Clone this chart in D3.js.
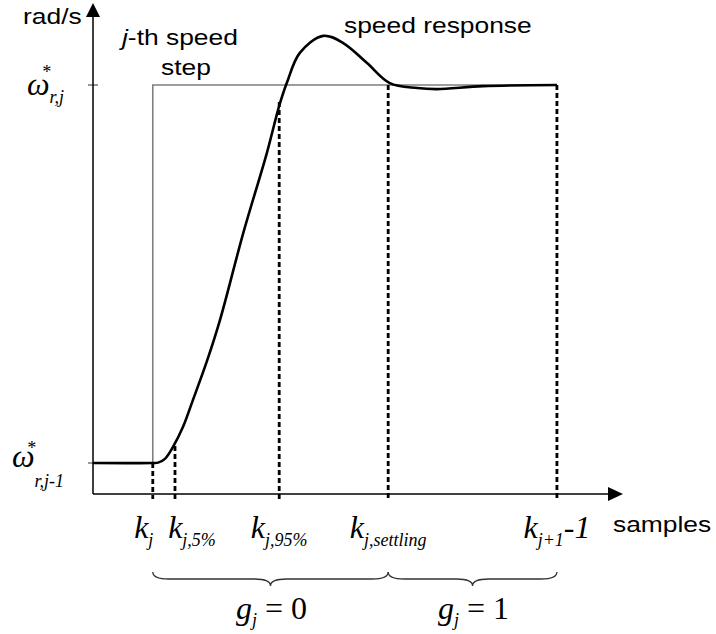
<!DOCTYPE html>
<html lang="en">
<head>
  <meta charset="UTF-8">
  <title>speed step response</title>
  <style>
    body {
      margin: 0;
      padding: 0;
      background: #fff;
    }
  </style>
</head>
<body>
  <div class="visual"></div>

  <script src="https://cdnjs.cloudflare.com/ajax/libs/d3/7.8.5/d3.min.js"></script>
  <script>
    'use strict';

    // speed is normalised: 0 = omega*_{r,j-1}, 1 = omega*_{r,j}
    const stepSamples = [0, 11.3, 11.3, 87.7];
    const stepValues = [0, 0, 1, 1];

    const responseSamples = [0, 11.3, 12.3, 13.6, 15.1, 17.0, 18.9, 21.6, 24.0, 28.4, 32.9, 35.2, 36.7, 39.1,
      43.5, 47.3, 51.8, 56.1, 61.3, 65.0, 73.7, 87.7];
    const responseValues = [0, 0, 0.001, 0.011, 0.042, 0.095, 0.167, 0.272, 0.378, 0.608, 0.822, 0.945, 1.008, 1.085,
      1.130, 1.111, 1.058, 1.005, 0.992, 0.989, 0.997, 1.0];

    // marked samples on the time axis
    const tickSamples = [11.3, 15.5, 35.2, 55.8, 87.7];
    const tickValues = [0, 0.045, 0.955, 1, 1];
    const tickSubs = ['j', 'j,5%', 'j,95%', 'j,settling', 'j+1'];
    const tickSuffix = ['', '', '', '', '-1'];

    // speed levels on the vertical axis
    const levelValues = [1, 0];
    const levelSubs = ['r,j', 'r,j-1'];

    // g_j flag intervals
    const braceFrom = [11.3, 55.8];
    const braceTo = [55.8, 87.7];
    const braceFlag = ['0', '1'];

    const W = 716, H = 634;
    const axisX = 93, axisY = 494;
    const SANS = 'Liberation Sans';
    const SERIF = 'Liberation Serif';

    const x = d3.scaleLinear().domain([0, 100]).range([93, 622]);
    const y = d3.scaleLinear().domain([0, 1]).range([463, 85]);

    const svg = d3.select('.visual').append('svg')
      .attr('width', W)
      .attr('height', H);

    // reference step
    const stepLine = d3.line()
      .x((d, i) => x(stepSamples[i]))
      .y((d, i) => y(stepValues[i]));
    svg.append('path')
      .attr('d', stepLine(stepSamples))
      .attr('fill', 'none')
      .attr('stroke', '#7f7f7f')
      .attr('stroke-width', 1.6);

    // level ticks on the y axis
    levelValues.forEach((v, i) => {
      svg.append('line')
        .attr('x1', axisX - 5).attr('x2', i === 0 ? axisX + 5 : axisX)
        .attr('y1', y(v)).attr('y2', y(v))
        .attr('stroke', '#7f7f7f')
        .attr('stroke-width', 1.6);
    });

    // dashed markers
    tickSamples.forEach((s, i) => {
      svg.append('line')
        .attr('x1', x(s)).attr('x2', x(s))
        .attr('y1', y(tickValues[i])).attr('y2', axisY + 5)
        .attr('stroke', '#000')
        .attr('stroke-width', 2.8)
        .attr('stroke-dasharray', '5,3');
    });

    // axes with arrows
    svg.append('line')
      .attr('x1', axisX).attr('x2', axisX)
      .attr('y1', axisY).attr('y2', 14)
      .attr('stroke', '#000').attr('stroke-width', 1.5);
    svg.append('line')
      .attr('x1', axisX).attr('x2', 610)
      .attr('y1', axisY).attr('y2', axisY)
      .attr('stroke', '#000').attr('stroke-width', 1.5);
    svg.append('path')
      .attr('d', `M${axisX},3 L${axisX + 7},17 L${axisX - 7},17 Z`)
      .attr('fill', '#000');
    svg.append('path')
      .attr('d', `M623,${axisY} L608,${axisY - 7} L608,${axisY + 7} Z`)
      .attr('fill', '#000');

    // speed response
    const respLine = d3.line()
      .x((d, i) => x(responseSamples[i]))
      .y((d, i) => y(responseValues[i]))
      .curve(d3.curveCatmullRom.alpha(0.5));
    svg.append('path')
      .attr('d', respLine(responseSamples))
      .attr('fill', 'none')
      .attr('stroke', '#000')
      .attr('stroke-width', 2.6);

    // sans labels (the original font is a little wider, hence the stretch)
    function sansText(tx, ty) {
      return svg.append('text')
        .attr('font-family', SANS)
        .attr('font-size', 22)
        .attr('transform', `translate(${tx},${ty}) scale(1.2,1)`);
    }
    sansText(23, 24).text('rad/s');
    const jth = sansText(122, 45);
    jth.append('tspan').attr('font-family', SANS).attr('font-style', 'italic').text('j');
    jth.append('tspan').attr('font-family', SANS).text('-th speed');
    sansText(161, 75).text('step');
    sansText(344, 33).text('speed response');
    sansText(613, 532).text('samples');

    // every tspan carries its own font, so nothing relies on inheritance
    function part(t, str, size, italic) {
      return t.append('tspan')
        .attr('font-family', SERIF)
        .attr('font-style', italic === false ? 'normal' : 'italic')
        .attr('font-size', size)
        .text(str);
    }

    function serifText(tx, ty) {
      return svg.append('text')
        .attr('font-family', SERIF)
        .attr('font-style', 'italic')
        .attr('font-size', 32)
        .attr('x', tx).attr('y', ty);
    }

    // omega labels: omega, star above, subscript below right
    levelValues.forEach((v, i) => {
      const yy = y(v) + (i === 0 ? 10 : 4);
      const x0 = i === 0 ? 27 : 12;
      const t = serifText(x0, yy);
      part(t, '\u03c9', 32);
      part(t, '*', 18).attr('dx', -8).attr('dy', i === 0 ? -17 : -13);
      part(t, levelSubs[i], 18).attr('dx', -1).attr('dy', i === 0 ? 25 : 33);
    });

    // k labels under the time axis
    const nudge = [-9, 17, 0, 0, 0];
    tickSamples.forEach((s, i) => {
      const t = serifText(x(s) + nudge[i], 538).attr('text-anchor', 'middle');
      part(t, 'k', 32);
      part(t, tickSubs[i], 18).attr('dy', 8);
      if (tickSuffix[i]) {
        part(t, tickSuffix[i], 32).attr('dy', -8);
      }
    });

    // braces and g_j labels
    braceFrom.forEach((s, i) => {
      const xa = x(s), xb = x(braceTo[i]), mid = (xa + xb) / 2, y0 = 572;
      const d = `M${xa},${y0} Q${xa},${y0 + 7} ${xa + 16},${y0 + 7} L${mid - 16},${y0 + 7} ` +
        `Q${mid},${y0 + 7} ${mid},${y0 + 14} Q${mid},${y0 + 7} ${mid + 16},${y0 + 7} ` +
        `L${xb - 16},${y0 + 7} Q${xb},${y0 + 7} ${xb},${y0}`;
      svg.append('path')
        .attr('d', d)
        .attr('fill', 'none')
        .attr('stroke', '#333')
        .attr('stroke-width', 1.3);

      const t = serifText(mid + 1, 619).attr('text-anchor', 'middle');
      part(t, 'g', 32);
      part(t, 'j', 18).attr('dy', 7);
      part(t, ' = ' + braceFlag[i], 32, false).attr('dy', -7);
    });
  </script>
</body>
</html>
